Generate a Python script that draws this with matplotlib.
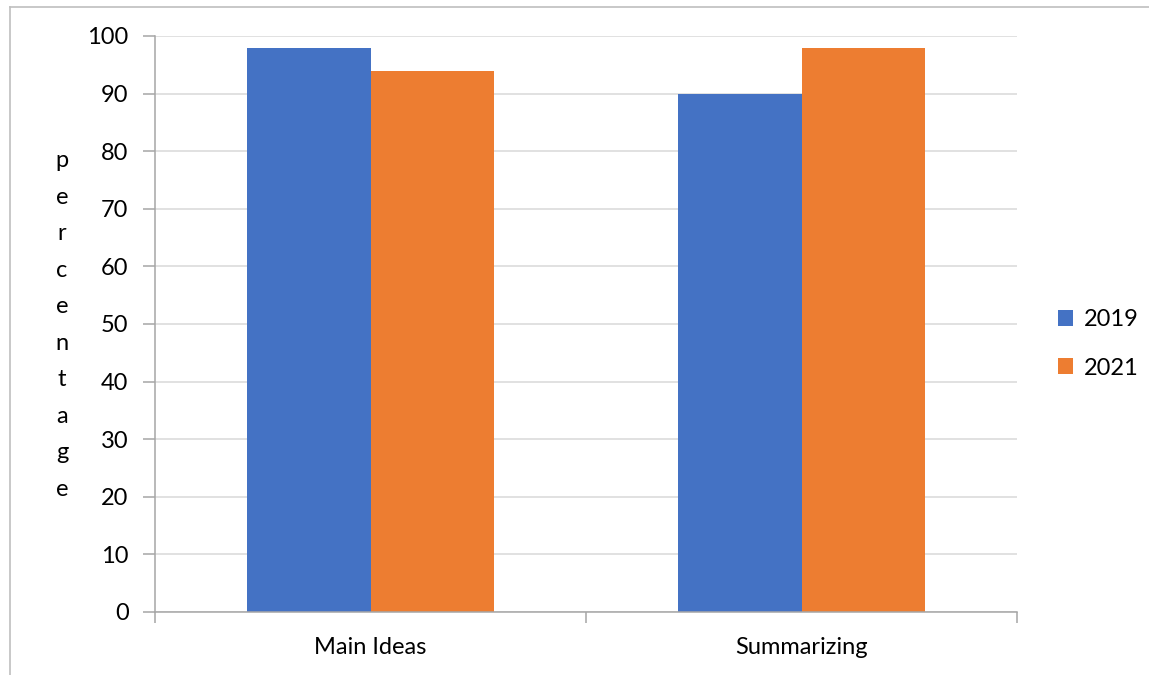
import matplotlib
matplotlib.use("Agg")
import matplotlib.pyplot as plt
from matplotlib.lines import Line2D
from matplotlib.patches import Patch
import numpy as np

plt.rcParams['font.family'] = ['Lato', 'DejaVu Sans']

categories = ["Main Ideas", "Summarizing"]
series_names = ["2019", "2021"]
values_2019 = [98, 90]
values_2021 = [94, 98]
y_ticks = [0, 10, 20, 30, 40, 50, 60, 70, 80, 90, 100]

blue = "#4472C4"
orange = "#ED7D31"
grid_color = "#D9D9D9"
axis_color = "#A6A6A6"
fs = 17

W, H = 1149, 675
fig = plt.figure(figsize=(W / 100, H / 100), dpi=100)
fig.patch.set_facecolor("white")

# outer chart frame (top and left edges visible)
fig.add_artist(Line2D([10 / W, 1.0], [1 - 7 / H, 1 - 7 / H], transform=fig.transFigure,
                      color="#BFBFBF", lw=1.2))
fig.add_artist(Line2D([10 / W, 10 / W], [0.0, 1 - 7 / H], transform=fig.transFigure,
                      color="#BFBFBF", lw=1.2))

ax = fig.add_axes([155 / W, 1 - 612 / H, (1017 - 155) / W, (612 - 36) / H])

x = np.arange(len(categories))
bw = 0.286
ax.bar(x - bw / 2, values_2019, width=bw, color=blue, label=series_names[0], zorder=3)
ax.bar(x + bw / 2, values_2021, width=bw, color=orange, label=series_names[1], zorder=3)

ax.set_xlim(-0.5, len(categories) - 0.5)
ax.set_ylim(0, 100)
ax.set_yticks(y_ticks)
ax.set_yticklabels([str(t) for t in y_ticks], fontsize=fs)
ax.yaxis.grid(True, color=grid_color, lw=1.1, zorder=0)
ax.set_axisbelow(True)

ax.set_xticks(x)
ax.set_xticklabels(categories, fontsize=fs)
ax.set_xticks(np.arange(len(categories) + 1) - 0.5, minor=True)
ax.tick_params(axis="x", which="major", length=0, pad=18)
ax.tick_params(axis="x", which="minor", length=8, color=axis_color, width=1.1, direction="out")
ax.tick_params(axis="y", length=9, color=axis_color, width=1.1, pad=10)

for side in ["top", "right"]:
    ax.spines[side].set_visible(False)
for side in ["left", "bottom"]:
    ax.spines[side].set_color(axis_color)
    ax.spines[side].set_linewidth(1.1)
    ax.spines[side].set_zorder(4)

ylabel = "\n".join("percentage")
fig.text(62 / W, 1 - 325 / H, ylabel, ha="center", va="center", multialignment="center",
         fontsize=fs, linespacing=1.91)

handles = [Patch(facecolor=blue, edgecolor="none"), Patch(facecolor=orange, edgecolor="none")]
fig.legend(handles, series_names, loc="center left", bbox_to_anchor=(1046 / W, 1 - 344 / H),
           frameon=False, fontsize=fs, handlelength=0.65, handleheight=0.65,
           handletextpad=0.45, labelspacing=1.15, borderpad=0)

fig.savefig("out.png", dpi=100)
